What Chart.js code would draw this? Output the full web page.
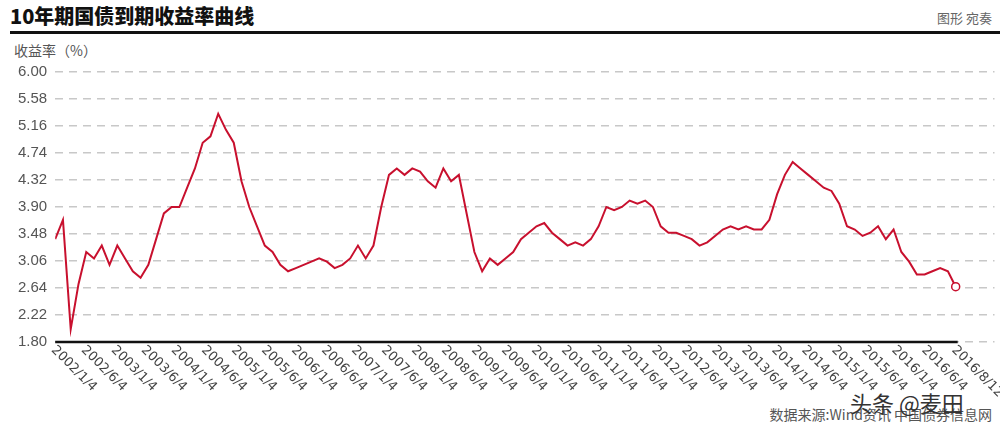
<!DOCTYPE html>
<html><head><meta charset="utf-8">
<script src="https://cdn.jsdelivr.net/npm/chart.js@4"></script>
<style>
body{margin:0;width:1000px;height:428px;background:#fff;position:relative;overflow:hidden;font-family:"Noto Sans CJK SC",sans-serif}
#t{position:absolute;left:10px;top:1px;font-size:20px;font-weight:900;color:#111}
#bar{position:absolute;left:10px;right:0;top:31px;height:3px;background:#111}
#a{position:absolute;right:8px;top:8px;font-size:13px;color:#666}
#yt{position:absolute;left:14px;top:40px;font-size:14px;color:#555}
#src{position:absolute;right:8px;bottom:4px;font-size:14px;color:#555}
#wm{position:absolute;left:850px;bottom:10px;font-size:22px;color:#333}
#c{position:absolute;left:0;top:55px;width:1000px;height:373px}
</style></head><body>
<div id="t">10年期国债到期收益率曲线</div><div id="bar"></div>
<div id="a">图形 宛奏</div>
<div id="yt">收益率（%）</div>
<div id="src">数据来源:Wind资讯 中国债券信息网</div>
<div id="wm">头条 @麦田</div>
<div id="c"><canvas id="cv"></canvas></div>
<script>
const tickLabels=["2002/1/4","2002/6/4","2003/1/4","2003/6/4","2004/1/4","2004/6/4","2005/1/4","2005/6/4","2006/1/4","2006/6/4","2007/1/4","2007/6/4","2008/1/4","2008/6/4","2009/1/4","2009/6/4","2010/1/4","2010/6/4","2011/1/4","2011/6/4","2012/1/4","2012/6/4","2013/1/4","2013/6/4","2014/1/4","2014/6/4","2015/1/4","2015/6/4","2016/1/4","2016/6/4","2016/8/12"];
const yieldValues=[3.4,3.7,2.0,2.7, 3.2,3.1,3.3,3.0, 3.3,3.1,2.9,2.8, 3.0,3.4,3.8,3.9,
 3.9,4.2,4.5,4.9, 5.0,5.35,5.1,4.9, 4.3,3.9,3.6,3.3, 3.2,3.0,2.9,2.95,
 3.0,3.05,3.1,3.05, 2.95,3.0,3.1,3.3, 3.1,3.3,3.9,4.4, 4.5,4.4,4.5,4.45,
 4.3,4.2,4.5,4.3, 4.4,3.8,3.2,2.9, 3.1,3.0,3.1,3.2, 3.4,3.5,3.6,3.65,
 3.5,3.4,3.3,3.35, 3.3,3.4,3.6,3.9, 3.85,3.9,4.0,3.95, 4.0,3.9,3.6,3.5,
 3.5,3.45,3.4,3.3, 3.35,3.45,3.55,3.6, 3.55,3.6,3.55,3.55, 3.7,4.1,4.4,4.6,
 4.5,4.4,4.3,4.2, 4.15,3.95,3.6,3.55, 3.45,3.5,3.6,3.4, 3.55,3.2,3.05,2.85,
 2.85,2.9,2.95,2.9, 2.66];
const yTicks=[1.80,2.22,2.64,3.06,3.48,3.90,4.32,4.74,5.16,5.58,6.00];
const n=yieldValues.length;
const pts=yieldValues.map((v,i)=>({x:i,y:v}));
const step=(n-1)/(tickLabels.length-1);
const deco={id:'deco',afterDraw(ch){
 const c=ch.ctx,x=ch.scales.x,b=ch.chartArea.bottom;
 c.save();c.strokeStyle='#111';c.lineWidth=2.5;c.beginPath();
 c.moveTo(ch.chartArea.left,b);c.lineTo(x.getPixelForValue(n-1)+2,b);c.stroke();
 c.fillStyle='#444';c.font='13px "DejaVu Sans"';
 tickLabels.forEach((t,k)=>{const px=x.getPixelForValue(k*step);c.save();c.translate(px-2,b+6);c.rotate(Math.PI/4);c.textBaseline='middle';c.fillText(t,0,0);c.restore();});
 c.restore();}};
new Chart(document.getElementById('cv'),{type:'line',
 data:{datasets:[{data:pts,borderColor:'#c8102e',borderWidth:2,tension:0,
  pointRadius:yieldValues.map((v,i)=>i===n-1?4:0),pointBackgroundColor:'#fff',pointBorderColor:'#c8102e',pointBorderWidth:1.5}]},
 options:{animation:false,responsive:true,maintainAspectRatio:false,
  layout:{padding:{top:10,right:2,bottom:78,left:10}},
  plugins:{legend:{display:false},tooltip:{enabled:false}},
  scales:{x:{type:'linear',min:0,max:n-1+5,grid:{display:false},border:{display:false},ticks:{display:false}},
   y:{min:1.8,max:6,afterBuildTicks:s=>{s.ticks=yTicks.map(v=>({value:v}));},
    border:{display:false,dash:[8,6]},grid:{color:'#c8c8c8',lineWidth:1.5,drawTicks:false},
    ticks:{padding:8,color:'#555',font:{size:15,family:'"Liberation Sans"'},callback:v=>v.toFixed(2)}}}},
 plugins:[deco]});
</script></body></html>
